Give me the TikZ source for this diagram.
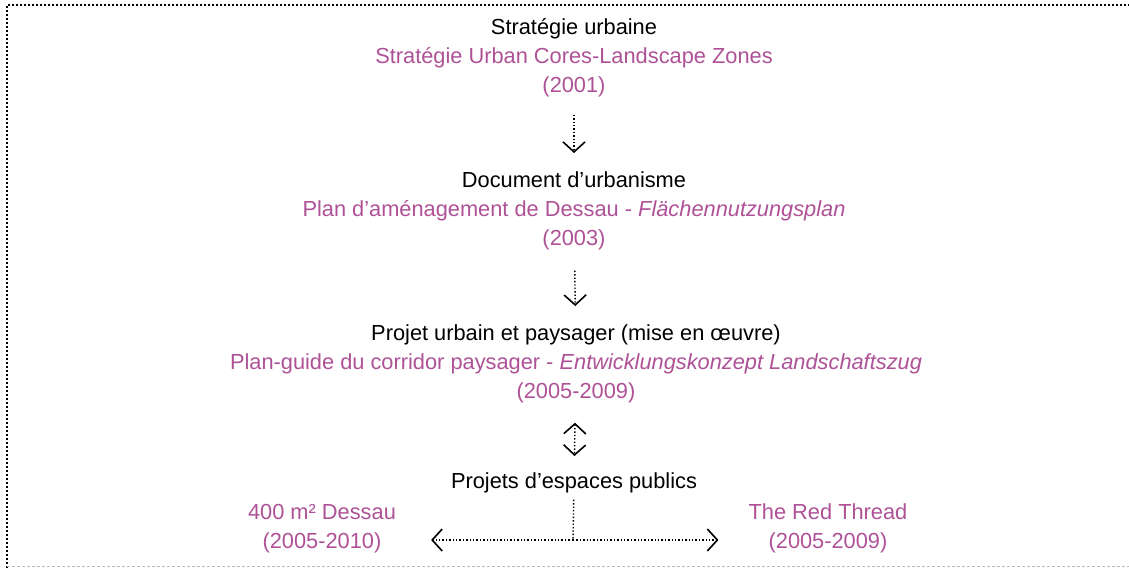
\documentclass[tikz,border=0pt]{standalone}
\usepackage{fontspec}
\setmainfont{Liberation Sans}
\usepackage{xcolor}
\definecolor{dessaupink}{HTML}{AE5196}
\definecolor{framegray}{HTML}{BBBBBB}
\usetikzlibrary{arrows.meta}
\newcommand{\projtxt}[1]{\textcolor{dessaupink}{#1}}

\begin{document}
\begin{tikzpicture}[x=1pt, y=-1pt,
  font=\fontsize{21.8}{29}\selectfont,
  level/.style={align=center, inner sep=2pt, anchor=base},
  flow/.style={dotted, line width=1.4pt,
               -{Straight Barb[length=10pt, width=22pt, line width=1.6pt]}},
  both/.style={flow, {Straight Barb[length=10pt, width=22pt, line width=1.6pt]}-{Straight Barb[length=10pt, width=22pt, line width=1.6pt]}},
]
\useasboundingbox (0,0) rectangle (1129,568);
% frame
\draw[line width=2.4pt, dash pattern=on 2.2pt off 1.8pt] (7,568) -- (7,5) -- (1129,5);
\draw[framegray, dash pattern=on 3pt off 2pt] (7,566) -- (1129,566);

% levels (anchored on the baseline of their last line)
\node[level] (strat) at (574,92)  {Stratégie urbaine\\
  \projtxt{Stratégie Urban Cores-Landscape Zones}\\\projtxt{(2001)}};
\node[level] (doc)   at (574,245) {Document d’urbanisme\\
  \projtxt{Plan d’aménagement de Dessau - \textit{Flächennutzungsplan}}\\\projtxt{(2003)}};
\node[level] (plan)  at (576,398) {Projet urbain et paysager (mise en œuvre)\\
  \projtxt{Plan-guide du corridor paysager - \textit{Entwicklungskonzept Landschaftszug}}\\\projtxt{(2005-2009)}};
\node[level] (pub)   at (574,488) {Projets d’espaces publics};
% public space projects
\node[level, text=dessaupink] (m400) at (322,548) {400 m² Dessau\\(2005-2010)};
\node[level, text=dessaupink] (red)  at (828,548) {The Red Thread\\(2005-2009)};
\coordinate (split) at (573,540);

\draw[flow, shorten <=16pt, shorten >=16pt] (strat) -- (doc);
\draw[flow, shorten <=19pt, shorten >=16pt] (doc) -- (plan);
\draw[both, shorten <=18pt, shorten >=14pt] (plan) -- (pub);
\draw[dotted, line width=1.4pt, shorten <=5pt] (pub) -- (split);
\draw[flow, shorten >=33pt] (split) -- (m400.east |- split);
\draw[flow, shorten >=28pt] (split) -- (red.west |- split);
\end{tikzpicture}
\end{document}
